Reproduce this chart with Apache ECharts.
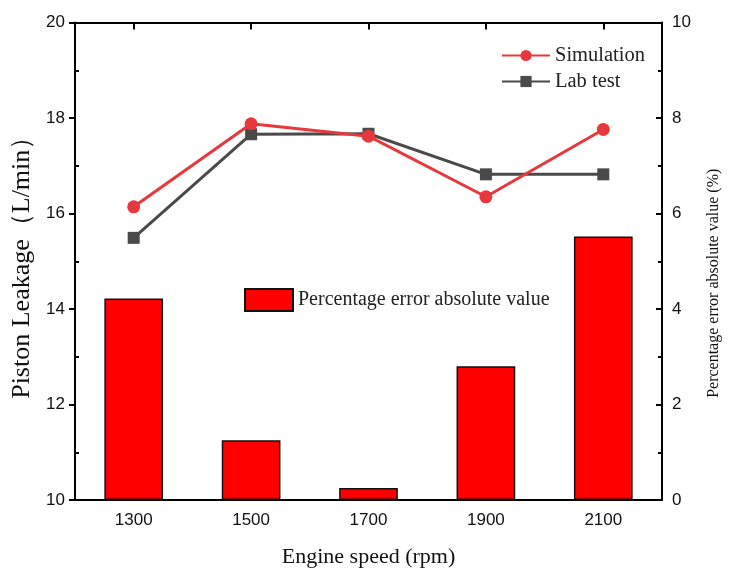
<!DOCTYPE html>
<html>
<head>
<meta charset="utf-8">
<script src="https://cdn.jsdelivr.net/npm/echarts@6/dist/echarts.min.js"></script>
<style>html,body{margin:0;padding:0;background:#fff}#c{width:730px;height:573px}</style>
</head>
<body>
<div id="c"></div>
<script>
const categories = ['1300', '1500', '1700', '1900', '2100'];
const simulation = [16.14, 17.88, 17.62, 16.35, 17.76];
const labTest = [15.49, 17.66, 17.67, 16.82, 16.82];
const percentError = [4.22, 1.25, 0.25, 2.80, 5.52];

const serif = '"Liberation Serif", "Times New Roman", serif';
const sans = '"Liberation Sans", Arial, sans-serif';

const chart = echarts.init(document.getElementById('c'), null, {renderer: 'canvas'});
chart.setOption({
  animation: false,
  backgroundColor: '#fff',
  grid: {left: 75, right: 59, top: 22.5, bottom: 66, containLabel: false},
  legend: [
    {
      data: ['Simulation', 'Lab test'],
      left: 496, top: 40, orient: 'vertical',
      itemWidth: 48, itemHeight: 14, itemGap: 5,
      textStyle: {fontFamily: serif, fontSize: 20.5, color: '#222'}
    },
    {
      data: [{name: 'Percentage error absolute value', icon: 'rect'}],
      left: 239, top: 283,
      itemWidth: 48, itemHeight: 22,
      textStyle: {fontFamily: serif, fontSize: 20, color: '#222'}
    }
  ],
  xAxis: [
    {
      type: 'category', data: categories, position: 'bottom',
      boundaryGap: true,
      name: 'Engine speed (rpm)', nameLocation: 'middle', nameGap: 46,
      nameTextStyle: {fontFamily: serif, fontSize: 22, color: '#111'},
      axisLine: {show: true, lineStyle: {color: '#000', width: 2}},
      axisTick: {show: false},
      axisLabel: {fontFamily: sans, fontSize: 17, color: '#111', margin: 12},
      splitLine: {show: false}
    },
    {
      type: 'category', data: categories, position: 'top',
      boundaryGap: true,
      axisLine: {show: true, lineStyle: {color: '#000', width: 2}},
      axisTick: {show: true, inside: true, alignWithLabel: true, length: 7, lineStyle: {width: 2}},
      axisLabel: {show: false},
      splitLine: {show: false}
    }
  ],
  yAxis: [
    {
      type: 'value', min: 10, max: 20, interval: 2, position: 'left',
      name: 'Piston Leakage（L/min）', nameLocation: 'middle', nameGap: 31, nameRotate: 90,
      nameTextStyle: {fontFamily: serif, fontSize: 26, color: '#111'},
      axisLine: {show: true, lineStyle: {color: '#000', width: 2}},
      axisTick: {show: true, inside: false, length: 6, lineStyle: {width: 2}},
      minorTick: {show: true, splitNumber: 2, length: -4, lineStyle: {color: '#000', width: 2}},
      axisLabel: {fontFamily: sans, fontSize: 17, color: '#111', margin: 10},
      splitLine: {show: false}
    },
    {
      type: 'value', min: 0, max: 10, interval: 2, position: 'right',
      name: 'Percentage error absolute value (%)', nameLocation: 'middle', nameGap: 44, nameRotate: 90,
      nameTextStyle: {fontFamily: serif, fontSize: 16, color: '#111', padding: [0, 44, 0, 0]},
      axisLine: {show: true, lineStyle: {color: '#000', width: 2}},
      axisTick: {show: true, inside: true, length: 6, lineStyle: {width: 2}},
      minorTick: {show: true, splitNumber: 2, length: 4, lineStyle: {color: '#000', width: 2}},
      axisLabel: {fontFamily: sans, fontSize: 17, color: '#111', margin: 10},
      splitLine: {show: false}
    }
  ],
  series: [
    {
      name: 'Percentage error absolute value', type: 'bar', xAxisIndex: 0, yAxisIndex: 1,
      data: percentError, barWidth: '50%',
      itemStyle: {color: '#FF0000', borderColor: '#111', borderWidth: 1.5},
      z: 1
    },
    {
      name: 'Simulation', type: 'line', xAxisIndex: 0, yAxisIndex: 0,
      data: simulation, symbol: 'circle', symbolSize: 13,
      lineStyle: {color: '#E8383D', width: 3},
      itemStyle: {color: '#E8383D'},
      z: 3
    },
    {
      name: 'Lab test', type: 'line', xAxisIndex: 0, yAxisIndex: 0,
      data: labTest, symbol: 'rect', symbolSize: 12,
      lineStyle: {color: '#4A4A4A', width: 3},
      itemStyle: {color: '#4A4A4A'},
      z: 2
    }
  ]
});
</script>
</body>
</html>
